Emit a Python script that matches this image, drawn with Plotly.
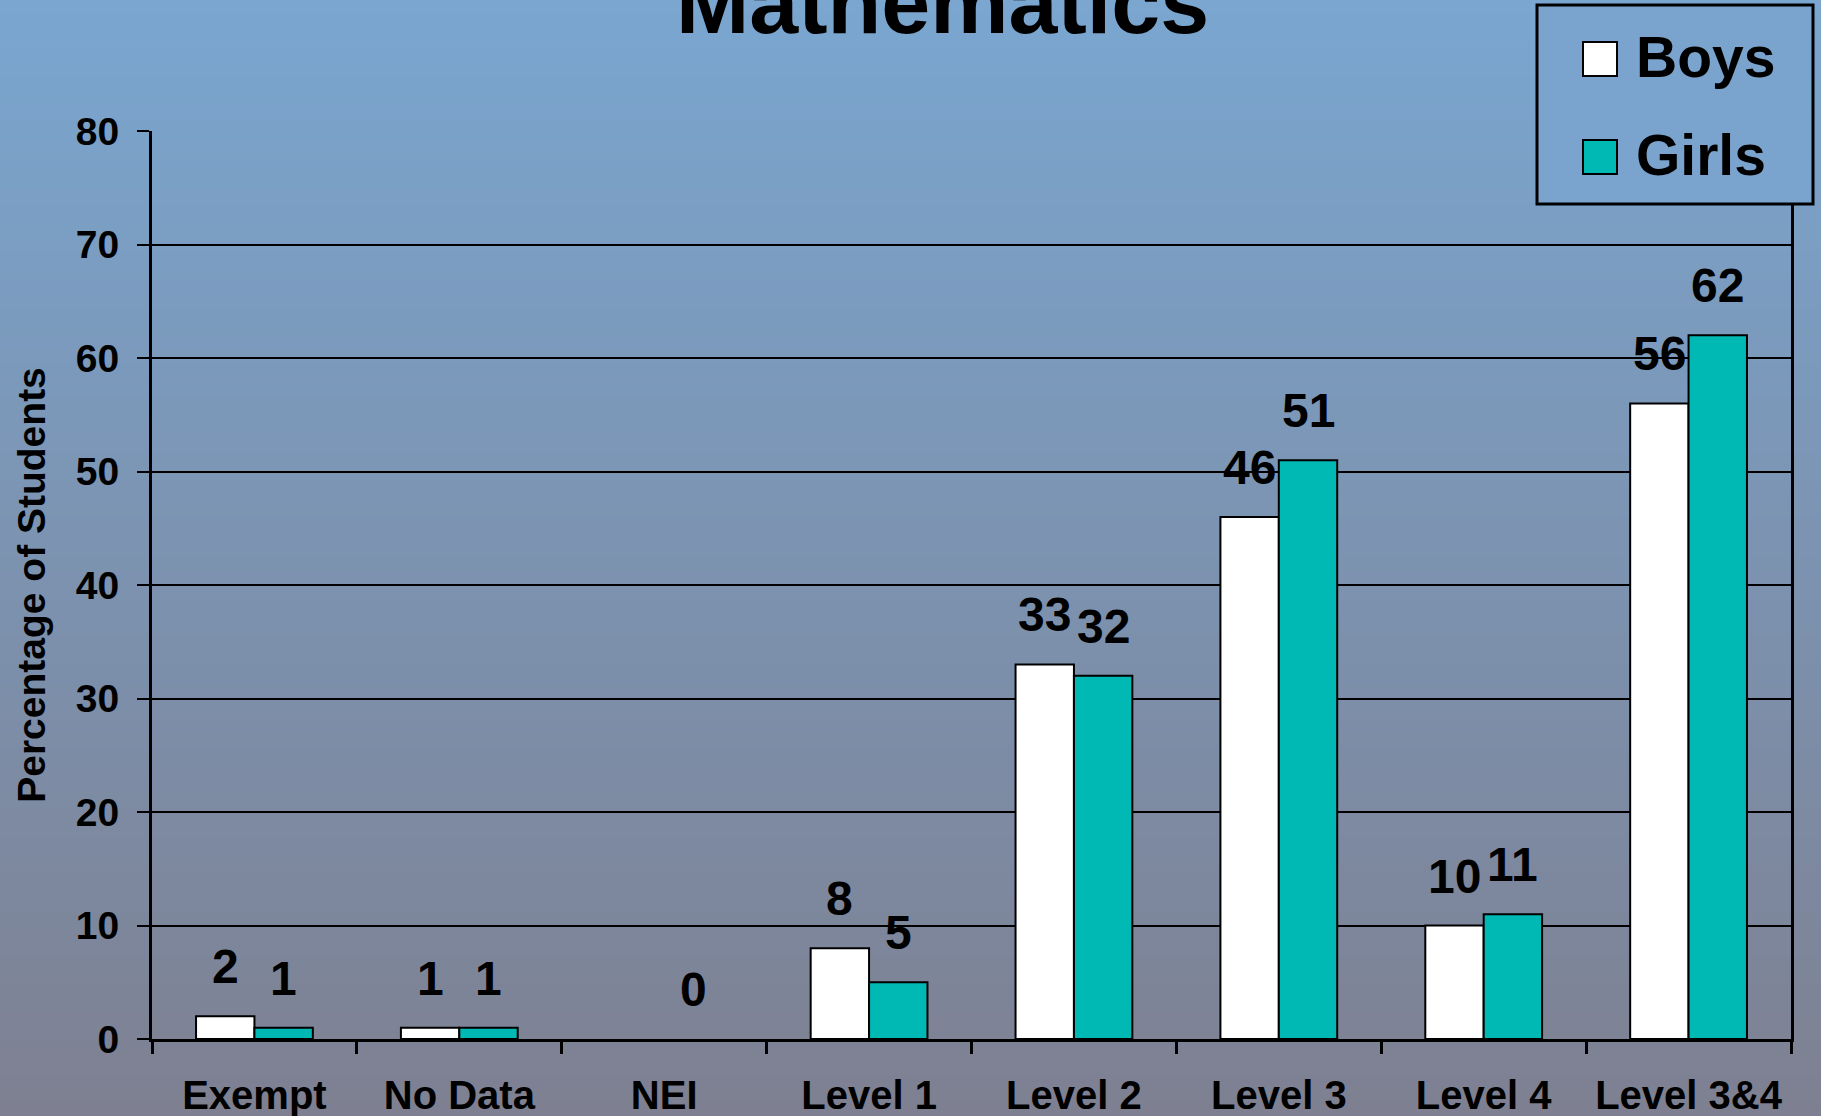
import plotly.graph_objects as go

# Chart data
categories = ['Exempt', 'No Data', 'NEI', 'Level 1', 'Level 2', 'Level 3', 'Level 4', 'Level 3&4']
boys = [2, 1, None, 8, 33, 46, 10, 56]
girls = [1, 1, 0, 5, 32, 51, 11, 62]
series_names = ['Boys', 'Girls']
series_colors = ['#FFFFFF', '#00B9B5']
y_ticks = [0, 10, 20, 30, 40, 50, 60, 70, 80]

# Page geometry
W, H = 1821, 1116
ML, MR, MT, MB = 152, 30, 131, 77
PW, PH = W - ML - MR, H - MT - MB
BARGAP = 0.43
FONT = 'Arial, Liberation Sans, sans-serif'


def px_x(px):
    return (px - ML) / PW


def px_y(py):
    return (H - MB - py) / PH


fig = go.Figure()
for name, vals, col in zip(series_names, [boys, girls], series_colors):
    # no outline on zero-height bars (they sit hidden on the axis)
    widths = [2 if v else 0 for v in vals]
    fig.add_trace(go.Bar(x=categories, y=vals, name=name, marker_color=col,
                         marker_line_color='black', marker_line_width=widths))

# Value labels above each bar
off = (1 - BARGAP) / 4
annotations = []
for j, vals in enumerate([boys, girls]):
    for i, v in enumerate(vals):
        if v is None:
            continue
        annotations.append(dict(x=i + (off if j else -off), y=v, xref='x', yref='y',
                                text=str(v), showarrow=False, yanchor='bottom', yshift=21,
                                font=dict(family=FONT, size=48, color='black', weight='bold')))

# Title, partly cut off at the top
annotations.append(dict(x=px_x(942), y=px_y(54), xref='paper', yref='paper', text='Mathematics',
                        showarrow=False, xanchor='center', yanchor='bottom',
                        font=dict(family=FONT, size=88, color='black', weight='bold')))

# Gradient background made of thin bands
shapes = []
top_rgb, bot_rgb = (122, 166, 208), (126, 128, 145)
n = 160
for k in range(n):
    t = (k + 0.5) / n
    c = tuple(round(a + (b - a) * t) for a, b in zip(top_rgb, bot_rgb))
    shapes.append(dict(type='rect', xref='paper', yref='paper', layer='below',
                       x0=px_x(0), x1=px_x(W), y0=px_y(k * H / n), y1=px_y((k + 1) * H / n + 1),
                       fillcolor='rgb(%d,%d,%d)' % c, line_width=0))

# Legend box drawn by hand so the swatches can be large
shapes.append(dict(type='rect', xref='paper', yref='paper', layer='above',
                   x0=px_x(1537), x1=px_x(1813), y0=px_y(204), y1=px_y(5),
                   fillcolor='rgb(122,164,206)', line=dict(color='black', width=3)))
for name, col, cy in zip(series_names, series_colors, [59, 157]):
    shapes.append(dict(type='rect', xref='paper', yref='paper', layer='above',
                       x0=px_x(1583), x1=px_x(1617), y0=px_y(cy + 17), y1=px_y(cy - 17),
                       fillcolor=col, line=dict(color='black', width=2)))
    annotations.append(dict(x=px_x(1634), y=px_y(cy - 2), xref='paper', yref='paper', text=name,
                            showarrow=False, xanchor='left', yanchor='middle',
                            font=dict(family=FONT, size=57, color='black', weight='bold')))

fig.update_layout(
    width=W, height=H,
    margin=dict(l=ML, r=MR, t=MT, b=MB),
    barmode='group', bargap=BARGAP, bargroupgap=0,
    showlegend=False,
    paper_bgcolor='rgb(124,146,178)', plot_bgcolor='rgba(0,0,0,0)',
    font=dict(family=FONT, color='black'),
    shapes=shapes, annotations=annotations,
)
fig.update_xaxes(showline=True, linecolor='black', linewidth=3, showgrid=False, automargin=False,
                 ticks='outside', tickson='boundaries', ticklen=12, tickwidth=3, tickcolor='black',
                 ticklabelstandoff=19,
                 tickfont=dict(family=FONT, size=40, color='black', weight='bold'))
fig.update_yaxes(range=[0, 80], tickvals=y_ticks, showline=True, mirror=True, linecolor='black',
                 linewidth=3, showgrid=True, gridcolor='black', gridwidth=2, zeroline=False,
                 automargin=False,
                 ticks='outside', ticklen=12, tickwidth=2, tickcolor='black',
                 ticklabelstandoff=10,
                 tickfont=dict(family=FONT, size=39, color='black', weight='bold'),
                 title=dict(text='Percentage of Students', standoff=19,
                            font=dict(family=FONT, size=39, color='black', weight='bold')))

fig.write_html('out.html', config={'displayModeBar': False},
               post_script="document.body.style.margin='0';")
